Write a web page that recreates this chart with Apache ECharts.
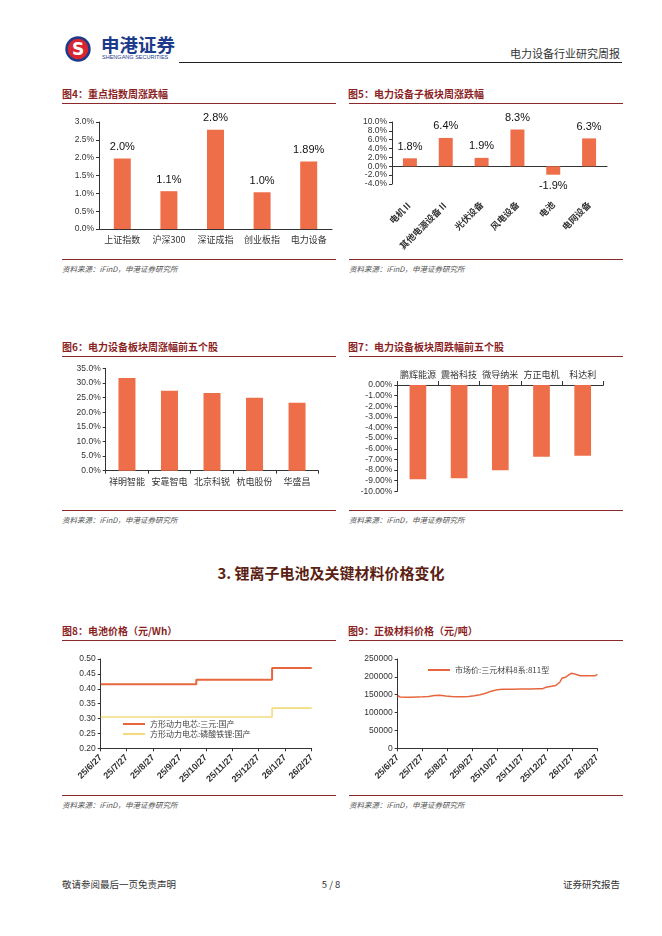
<!DOCTYPE html>
<html><head><meta charset="utf-8">
<script src="https://cdn.jsdelivr.net/npm/echarts@6/dist/echarts.min.js"></script>
<style>
body{margin:0;width:662px;height:936px;background:#fff;position:relative;font-family:"Noto Sans CJK SC",sans-serif;overflow:hidden}
.abs{position:absolute;white-space:nowrap}
.ttl{position:absolute;font-size:10px;font-weight:bold;color:#8B1F1F;line-height:12px;white-space:nowrap}
.rule{position:absolute;height:0;border-top:1.3px solid #8B2A2A}
.src{position:absolute;font-size:7.5px;font-style:italic;color:#555;line-height:10px;white-space:nowrap}
.ch{position:absolute}
</style></head>
<body>
<!-- header -->
<svg class="abs" style="left:65px;top:36px" width="26" height="26" viewBox="0 0 26 26">
  <circle cx="13" cy="13" r="11.5" fill="#D9252F" stroke="#1E3A8A" stroke-width="2.4"/>
  <text x="13" y="19" text-anchor="middle" font-family="DejaVu Sans" font-weight="bold" font-size="17" fill="#fff">S</text>
</svg>
<div class="abs" style="left:101px;top:33px;font-size:18.5px;font-weight:bold;color:#1E3A8A;line-height:22px;letter-spacing:0px">申港证券</div>
<div class="abs" style="left:102px;top:54px;font-size:6px;color:#1E3A8A;line-height:7px;font-family:'Liberation Sans';transform:scaleX(0.92);transform-origin:left">SHENGANG SECURITIES</div>
<div class="abs" style="left:179px;top:62px;width:443px;border-top:1.2px solid #222"></div>
<div class="abs" style="right:42px;top:46px;font-size:11px;color:#333;line-height:14px">电力设备行业研究周报</div>

<!-- row 1 titles -->
<div class="ttl" style="left:62px;top:88px">图4：重点指数周涨跌幅</div>
<div class="rule" style="left:62px;top:103px;width:274px"></div>
<div class="ttl" style="left:348px;top:88px">图5：电力设备子板块周涨跌幅</div>
<div class="rule" style="left:349px;top:103px;width:274px"></div>
<div class="rule" style="left:62px;top:259px;width:274px"></div>
<div class="src" style="left:62px;top:264px">资料来源：iFinD，申港证券研究所</div>
<div class="rule" style="left:349px;top:259px;width:274px"></div>
<div class="src" style="left:349px;top:264px">资料来源：iFinD，申港证券研究所</div>

<!-- row 2 -->
<div class="ttl" style="left:62px;top:341px">图6：电力设备板块周涨幅前五个股</div>
<div class="rule" style="left:62px;top:356px;width:274px"></div>
<div class="ttl" style="left:348px;top:341px">图7：电力设备板块周跌幅前五个股</div>
<div class="rule" style="left:349px;top:356px;width:274px"></div>
<div class="rule" style="left:62px;top:510px;width:274px"></div>
<div class="src" style="left:62px;top:515px">资料来源：iFinD，申港证券研究所</div>
<div class="rule" style="left:349px;top:510px;width:274px"></div>
<div class="src" style="left:349px;top:515px">资料来源：iFinD，申港证券研究所</div>

<div class="abs" style="left:0;width:662px;text-align:center;top:563px;font-size:15px;font-weight:bold;color:#5B1F14;line-height:20px">3. 锂离子电池及关键材料价格变化</div>

<!-- row 3 -->
<div class="ttl" style="left:62px;top:625px">图8：电池价格（元/Wh）</div>
<div class="rule" style="left:62px;top:640px;width:274px"></div>
<div class="ttl" style="left:348px;top:625px">图9：正极材料价格（元/吨）</div>
<div class="rule" style="left:349px;top:640px;width:274px"></div>
<div class="rule" style="left:62px;top:795px;width:274px"></div>
<div class="src" style="left:62px;top:800px">资料来源：iFinD，申港证券研究所</div>
<div class="rule" style="left:349px;top:795px;width:274px"></div>
<div class="src" style="left:349px;top:800px">资料来源：iFinD，申港证券研究所</div>

<!-- footer -->
<div class="abs" style="left:62px;top:878px;font-size:9.5px;color:#333;line-height:12px">敬请参阅最后一页免责声明</div>
<div class="abs" style="left:0;width:662px;text-align:center;top:878px;font-size:9.5px;color:#333;line-height:12px">5 / 8</div>
<div class="abs" style="right:42px;top:878px;font-size:9.5px;color:#333;line-height:12px">证券研究报告</div>

<div id="c4" class="ch" style="left:55px;top:110px;width:290px;height:145px"></div>
<div id="c5" class="ch" style="left:340px;top:110px;width:300px;height:148px"></div>
<div id="c6" class="ch" style="left:55px;top:360px;width:290px;height:140px"></div>
<div id="c7" class="ch" style="left:340px;top:360px;width:300px;height:140px"></div>
<div id="c8" class="ch" style="left:55px;top:645px;width:290px;height:148px"></div>
<div id="c9" class="ch" style="left:340px;top:645px;width:300px;height:148px"></div>

<script>
// ---------- data ----------
const fig4Cats = ['上证指数','沪深300','深证成指','创业板指','电力设备'];
const fig4Vals = [1.98, 1.06, 2.78, 1.03, 1.89];
const fig4Labels = ['2.0%','1.1%','2.8%','1.0%','1.89%'];

const fig5Cats = ['电机Ⅱ','其他电源设备Ⅱ','光伏设备','风电设备','电池','电网设备'];
const fig5Vals = [1.8, 6.4, 1.9, 8.3, -1.9, 6.3];
const fig5Labels = ['1.8%','6.4%','1.9%','8.3%','-1.9%','6.3%'];

const fig6Cats = ['祥明智能','安靠智电','北京科锐','杭电股份','华盛昌'];
const fig6Vals = [31.7, 27.3, 26.6, 24.9, 23.2];

const fig7Cats = ['鹏辉能源','震裕科技','微导纳米','方正电机','科达利'];
const fig7Vals = [-8.87, -8.78, -8.03, -6.74, -6.65];

const fig8Names = ['方形动力电芯:三元:国产','方形动力电芯:磷酸铁锂:国产'];
const fig8TernaryDates = ['25/6/27','25/10/16','26/1/12','26/2/27'];
const fig8TernaryVals  = [0.415, 0.43, 0.47, 0.47];
const fig8LfpDates = ['25/6/27','26/1/12','26/2/27'];
const fig8LfpVals  = [0.305, 0.335, 0.335];

const fig9Name = '市场价:三元材料8系:811型';
const fig9Dates = ['25/6/27','25/6/30','25/7/7','25/7/14','25/7/21','25/7/28','25/8/4','25/8/11','25/8/18','25/8/25',
  '25/9/1','25/9/8','25/9/15','25/9/22','25/9/29','25/10/6','25/10/13','25/10/20','25/10/27','25/11/3','25/11/10',
  '25/11/17','25/11/24','25/12/1','25/12/8','25/12/15','25/12/22','25/12/26','26/1/2','26/1/7','26/1/12','26/1/15',
  '26/1/19','26/1/21','26/1/26','26/1/29','26/2/2','26/2/6','26/2/13','26/2/20','26/2/24','26/2/27'];
const fig9Vals = [147000,143500,143000,143000,143500,144000,145000,147500,148500,146500,
  145000,144000,144000,145000,147000,150000,154000,160000,164000,165000,165000,
  165500,166000,166000,166000,166500,167000,171000,174000,176000,185000,197000,
  199000,196000,210000,209000,206000,203000,203000,203000,203000,207000];

// axis categories: one per day from 25/6/27 to 26/2/27
const dayCats = [];
for (let d = new Date(2025,5,27); d <= new Date(2026,1,27); d.setDate(d.getDate()+1)) {
  dayCats.push((d.getFullYear()%100) + '/' + (d.getMonth()+1) + '/' + d.getDate());
}

// ---------- styles ----------
const BAR = '#EE6E4A';
const AX = '#333';
const NUMF = "'Liberation Sans','Noto Sans CJK SC',sans-serif";
const CJKF = "'Noto Sans CJK SC',sans-serif";
const axLine = {show:true, lineStyle:{color:AX, width:1}};
const yTick = {show:true, length:3, lineStyle:{color:AX}};
const numLabel = (fmt) => ({fontSize:8.5, color:'#333', fontFamily:NUMF, margin:5, formatter:fmt});
const catLabel = {fontSize:9, color:'#333', fontFamily:CJKF, margin:6, interval:0};

function mk(id, opt){ const c = echarts.init(document.getElementById(id), null, {renderer:'canvas'}); opt.animation=false; c.setOption(opt); }

// fig4
mk('c4', {
  grid:{left:44, top:12, width:233, height:107},
  xAxis:{type:'category', data:fig4Cats, axisLine:axLine, axisTick:{show:false}, axisLabel:catLabel},
  yAxis:{type:'value', min:0, max:3, interval:0.5, axisLine:axLine, axisTick:yTick, splitLine:{show:false},
    axisLabel:numLabel(v=>v.toFixed(1)+'%')},
  series:[{type:'bar', data:fig4Vals, barWidth:17, itemStyle:{color:BAR},
    label:{show:true, position:'top', distance:6, fontSize:11, color:'#111', fontFamily:NUMF,
      formatter:p=>fig4Labels[p.dataIndex]}}]
});

// fig5
mk('c5', {
  grid:{left:52, top:12, width:215, height:62},
  xAxis:[
    {type:'category', data:fig5Cats, position:'bottom', axisLine:{show:true, onZero:true, lineStyle:{color:AX}}, axisTick:{show:false}, axisLabel:{show:false}},
    {type:'category', data:fig5Cats, position:'bottom', axisLine:{show:false, onZero:false}, axisTick:{show:false},
      axisLabel:{interval:0, rotate:45, margin:19, fontSize:9, fontWeight:'bold', color:'#333', fontFamily:CJKF}}
  ],
  yAxis:{type:'value', min:-4, max:10, interval:2, axisLine:axLine, axisTick:yTick, splitLine:{show:false},
    axisLabel:numLabel(v=>v.toFixed(1)+'%')},
  series:[{type:'bar', xAxisIndex:0, data:fig5Vals, barWidth:14, itemStyle:{color:BAR},
    label:{show:true, position:'outside', distance:6, fontSize:11, color:'#111', fontFamily:NUMF,
      formatter:p=>fig5Labels[p.dataIndex]}}]
});

// fig6
mk('c6', {
  grid:{left:50.7, top:8.3, width:212.6, height:102.4},
  xAxis:{type:'category', data:fig6Cats, axisLine:axLine, axisTick:{show:true, length:3, lineStyle:{color:AX}}, axisLabel:catLabel},
  yAxis:{type:'value', min:0, max:35, interval:5, axisLine:axLine, axisTick:yTick, splitLine:{show:false},
    axisLabel:numLabel(v=>v.toFixed(1)+'%')},
  series:[{type:'bar', data:fig6Vals, barWidth:17, itemStyle:{color:BAR}}]
});

// fig7
mk('c7', {
  grid:{left:57.3, top:25, width:206, height:106.3},
  xAxis:{type:'category', data:fig7Cats, position:'top', axisLine:axLine, axisTick:{show:true, length:4, lineStyle:{color:AX}}, axisLabel:catLabel},
  yAxis:{type:'value', min:-10, max:0, interval:1, axisLine:axLine, axisTick:yTick, splitLine:{show:false},
    axisLabel:numLabel(v=>v.toFixed(2)+'%')},
  series:[{type:'bar', data:fig7Vals, barWidth:16.7, itemStyle:{color:BAR}}]
});

const is27 = (i, v) => /\/27$/.test(v);
const dateAxis = {type:'category', data:dayCats, boundaryGap:false, axisLine:axLine,
  axisTick:{show:true, interval:is27, length:3, lineStyle:{color:AX}},
  axisLabel:{interval:is27, rotate:45, margin:8, fontSize:9, fontWeight:'bold', color:'#333', fontFamily:NUMF}};

// fig8
mk('c8', {
  grid:{left:45.7, top:14, width:211, height:89.3},
  legend:{left:63, top:70, orient:'vertical', icon:'rect', itemWidth:22, itemHeight:2, itemGap:2,
    textStyle:{fontSize:8, color:'#444', fontFamily:CJKF}, data:fig8Names},
  xAxis:dateAxis,
  yAxis:{type:'value', min:0.2, max:0.5, interval:0.05, axisLine:axLine, axisTick:yTick, splitLine:{show:false},
    axisLabel:numLabel(v=>v.toFixed(2))},
  series:[
    {name:fig8Names[0], type:'line', step:'end', symbol:'none', lineStyle:{color:'#E8663E', width:2}, itemStyle:{color:'#E8663E'},
      data:fig8TernaryDates.map((d,i)=>[d, fig8TernaryVals[i]])},
    {name:fig8Names[1], type:'line', step:'end', symbol:'none', lineStyle:{color:'#F2DC7E', width:1.6}, itemStyle:{color:'#F2DC7E'},
      data:fig8LfpDates.map((d,i)=>[d, fig8LfpVals[i]])}
  ]
});

// fig9
mk('c9', {
  grid:{left:57.7, top:14, width:199.6, height:89.3},
  legend:{left:83, top:16, icon:'rect', itemWidth:22, itemHeight:2, textStyle:{fontSize:8, color:'#444', fontFamily:CJKF}, data:[fig9Name]},
  xAxis:dateAxis,
  yAxis:{type:'value', min:0, max:250000, interval:50000, axisLine:axLine, axisTick:yTick, splitLine:{show:false},
    axisLabel:numLabel(v=>String(v))},
  series:[{name:fig9Name, type:'line', symbol:'none', lineStyle:{color:'#E8663E', width:1.5}, itemStyle:{color:'#E8663E'},
    data:fig9Dates.map((d,i)=>[d, fig9Vals[i]])}]
});
</script>
</body></html>
